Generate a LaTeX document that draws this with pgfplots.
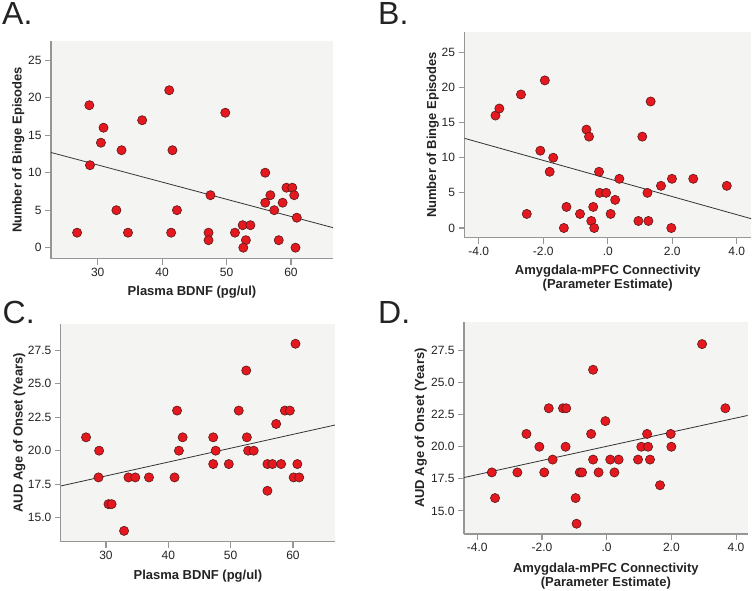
\documentclass[border=0pt]{standalone}
\usepackage{pgfplots}
\pgfplotsset{compat=1.18}
\usepackage{fontspec}
\setmainfont{Liberation Sans}
\definecolor{bg}{RGB}{244,245,242}
\definecolor{ax}{RGB}{150,150,150}
\definecolor{dotred}{RGB}{228,24,30}
\definecolor{dotedge}{RGB}{90,25,25}
\definecolor{txt}{RGB}{35,35,35}

\pgfplotsset{
  panel/.style={
    scale only axis,
    axis lines=left,
    axis line style={ax, line width=1.3pt, -},
    axis background/.style={fill=bg},
    tick align=outside,
    major tick length=6pt,
    every tick/.style={ax, line width=1.1pt},
    /pgf/number format/assume math mode=true,
    tick label style={font=\fontsize{12}{14}\selectfont, text=txt},
    label style={font=\bfseries\fontsize{13}{14}\selectfont, text=txt},
    xlabel style={anchor=center, align=center},
    ylabel style={anchor=center},
  },
  dots/.style={only marks, mark=*, mark size=4.6pt,
    mark options={fill=dotred, draw=dotedge, line width=0.6pt}},
  fitline/.style={black!80, line width=0.8pt, no marks},
}

\pgfplotstableread{
x y
26.8 2
28.7 19
28.8 11
30.9 16
30.5 14
33.7 13
32.9 5
34.7 2
36.9 17
41.1 21
41.6 13
41.4 2
42.3 5
47.5 7
47.2 2
47.2 1
49.8 18
51.3 2
52.5 3
53.7 3
53.0 1
52.6 0
56.0 10
56.0 6
56.8 7
57.4 5
58.1 1
58.7 6
59.3 8
60.2 8
60.5 7
60.9 4
60.7 0
}\dataA

\pgfplotstableread{
x y
-3.48 16
-3.36 17
-2.69 19
-2.51 2
-1.95 21
-2.09 11
-1.69 10
-1.80 8
-1.28 3
-1.36 0
-0.86 2
-0.66 14
-0.58 13
-0.51 1
-0.45 3
-0.42 0
-0.27 8
-0.25 5
-0.05 5
0.09 2
0.23 4
0.36 7
0.95 1
1.07 13
1.23 5
1.26 1
1.33 18
1.65 6
1.97 0
1.99 7
2.65 7
3.69 6
}\dataB

\pgfplotstableread{
x y
26.8 21
28.9 20
28.8 18
30.4 16
30.9 16
32.9 14
33.6 18
34.7 18
36.9 18
41.0 18
41.4 23
41.7 20
42.3 21
47.2 21
47.2 19
47.6 20
49.7 19
51.3 23
52.5 26
52.6 21
52.8 20
53.7 20
55.9 19
55.9 17
56.7 19
57.3 22
58.1 19
58.7 23
59.5 23
60.4 28
60.1 18
60.7 19
61.0 18
}\dataC

\pgfplotstableread{
x y
-3.55 18
-3.45 16
-2.76 18
-2.48 21
-2.08 20
-1.93 18
-1.79 23
-1.67 19
-1.35 23
-1.25 23
-1.27 20
-0.96 16
-0.93 14
-0.83 18
-0.76 18
-0.48 21
-0.42 26
-0.42 19
-0.25 18
-0.04 22
0.11 19
0.24 18
0.37 19
0.97 19
1.07 20
1.25 21
1.28 20
1.34 19
1.65 17
1.98 21
2.00 20
2.95 28
3.67 23
}\dataD

\begin{document}
\begin{tikzpicture}
\path[use as bounding box] (0pt,0pt) rectangle (752pt,591pt);

% Panel A
\begin{axis}[panel, at={(51pt,332.3pt)}, anchor=south west,
  width=282pt, height=217.7pt,
  xmin=22.75, xmax=66.52, ymin=-1.47, ymax=27.57,
  xtick={30,40,50,60}, ytick={0,5,10,15,20,25},
  xlabel={Plasma BDNF (pg/ul)},
  ylabel={Number of Binge Episodes},
  xlabel style={at={(axis description cs:0.5,-0.153)}},
  ylabel style={at={(axis description cs:-0.116,0.5)}},
]
\addplot[fitline] coordinates {(22.75,12.7) (66.52,2.67)};
\addplot[dots] table[x=x,y=y] {\dataA};
\end{axis}

% Panel B
\begin{axis}[panel, at={(464.5pt,353.3pt)}, anchor=south west,
  width=286.5pt, height=205.7pt,
  xmin=-4.44, xmax=4.44, ymin=-1.38, ymax=27.89,
  xtick={-4,-2,0,2,4}, xticklabels={-4.0,-2.0,.0,2.0,4.0},
  ytick={0,5,10,15,20,25},
  xlabel={Amygdala-mPFC Connectivity\\(Parameter Estimate)},
  ylabel={Number of Binge Episodes},
  xlabel style={at={(axis description cs:0.5,-0.197)}},
  ylabel style={at={(axis description cs:-0.111,0.5)}},
]
\addplot[fitline] coordinates {(-4.44,12.76) (4.44,1.33)};
\addplot[dots] table[x=x,y=y] {\dataB};
\end{axis}

% Panel C
\begin{axis}[panel, at={(60.8pt,49.3pt)}, anchor=south west,
  width=274.2pt, height=217.7pt,
  xmin=22.75, xmax=66.74, ymin=13.19, ymax=29.48,
  xtick={30,40,50,60}, ytick={15,17.5,20,22.5,25,27.5},
  yticklabels={15.0,17.5,20.0,22.5,25.0,27.5},
  xlabel={Plasma BDNF (pg/ul)},
  ylabel={AUD Age of Onset (Years)},
  xlabel style={at={(axis description cs:0.5,-0.158)}},
  ylabel style={at={(axis description cs:-0.151,0.5)}},
]
\addplot[fitline] coordinates {(22.75,17.36) (66.74,21.92)};
\addplot[dots] table[x=x,y=y] {\dataC};
\end{axis}

% Panel D
\begin{axis}[panel, at={(464pt,57pt)}, anchor=south west,
  width=283.7pt, height=211.7pt,
  xmin=-4.41, xmax=4.36, ymin=13.2, ymax=29.7,
  xtick={-4,-2,0,2,4}, xticklabels={-4.0,-2.0,.0,2.0,4.0},
  ytick={15,17.5,20,22.5,25,27.5},
  yticklabels={15.0,17.5,20.0,22.5,25.0,27.5},
  xlabel={Amygdala-mPFC Connectivity\\(Parameter Estimate)},
  ylabel={AUD Age of Onset (Years)},
  xlabel style={at={(axis description cs:0.5,-0.199)}},
  ylabel style={at={(axis description cs:-0.152,0.5)}},
]
\addplot[fitline] coordinates {(-4.41,17.6) (4.36,22.44)};
\addplot[dots] table[x=x,y=y] {\dataD};
\end{axis}

\node[anchor=base west, inner sep=0pt, font=\fontsize{32}{32}\selectfont, text=txt] at (2pt,566pt) {A.};
\node[anchor=base west, inner sep=0pt, font=\fontsize{32}{32}\selectfont, text=txt] at (378pt,566pt) {B.};
\node[anchor=base west, inner sep=0pt, font=\fontsize{32}{32}\selectfont, text=txt] at (2.5pt,267pt) {C.};
\node[anchor=base west, inner sep=0pt, font=\fontsize{32}{32}\selectfont, text=txt] at (378pt,267pt) {D.};
\end{tikzpicture}
\end{document}
